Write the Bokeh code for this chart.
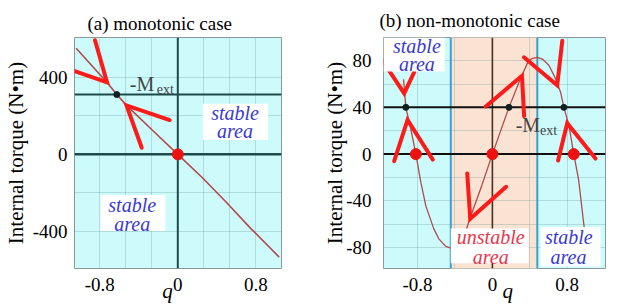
import numpy as np
from bokeh.plotting import figure
from bokeh.models import Range1d, FixedTicker, Span, Label, LabelSet, Title, ColumnDataSource
from bokeh.layouts import row
from bokeh.embed import file_html
from bokeh.resources import INLINE
from bokeh.core.properties import value

# ---------------- panel (a): monotonic case ----------------
a_q = [-1.043, -0.726, -0.626, -0.526, -0.26, 0.0, 0.25, 0.5, 0.75, 1.04]
a_torque = [550, 373, 310, 254, 125, 0, -120, -250, -385, -533]
a_mext = 310
a_eq_q = [-0.626]
a_eq_t = [310]
a_zero_q = [0.0]
a_zero_t = [0]
a_tip_q = [-0.726, -0.526]
a_tip_t = [373, 254]
a_arm1_q = [-1.16, -0.083]
a_arm1_t = [449, 178]
a_arm2_q = [-0.85, -0.37]
a_arm2_t = [592, 34]
a_box_l = [0.257, -0.793]
a_box_r = [0.927, -0.126]
a_box_t = [262, -211]
a_box_b = [74, -397]
a_txt_q = [0.587, 0.587, -0.468, -0.468]
a_txt_t = [217, 120, -265, -359]
a_txt = ["stable", "area", "stable", "area"]
a_xticks = [-0.8, 0, 0.8]
a_xtick_labels = ["-0.8", "0", "0.8"]
a_xgrid = [-0.8, -0.5333, -0.2667, 0, 0.2667, 0.5333, 0.8]
a_yticks = [-400, 0, 400]
a_ytick_labels = ["-400", "0", "400"]
a_ygrid = [-400, -200, 0, 200, 400]

# ---------------- panel (b): non-monotonic case ----------------
b_q = [-0.950, -0.925, -0.871, -0.818, -0.765, -0.711, -0.626, -0.573, -0.498, -0.445,
       -0.360, -0.285, -0.231, -0.114, 0.0, 0.177, 0.302, 0.387, 0.43, 0.48, 0.54,
       0.604, 0.675, 0.729, 0.764, 0.817, 0.870, 0.921, 0.977, 1.006]
b_torque = [64, 40, 21, 0, -24, -44.5, -64, -72.5, -79, -80.5,
            -78, -66, -53, -27, 0, 40, 65, 80, 82, 82.7, 81,
            76, 64.6, 53, 40, 25, 0, -21.6, -60, -77]
b_mext = 40
b_eq_q = [-0.925, 0.177, 0.764]
b_eq_t = [40, 40, 40]
b_zero_q = [-0.818, 0.0, 0.870]
b_zero_t = [0, 0, 0]
b_unstable = [-0.445, 0.48]
b_tip_q = [-0.943, -0.907, -0.237, 0.316, 0.693, 0.800]
b_tip_t = [51.9, 29.2, -55.3, 67.0, 58.9, 26.4]
b_arm1_q = [-1.199, -1.050, -0.269, -0.071, 0.337, 0.702]
b_arm1_t = [82.9, -6.1, -16.5, 40.7, 82.9, -5.5]
b_arm2_q = [-0.836, -0.637, 0.147, 0.339, 0.747, 1.102]
b_arm2_t = [70.2, -4.7, -28.0, 32.6, 97.0, -3.8]
b_box_l = [-1.164, -0.445, 0.515]
b_box_r = [-0.509, 0.387, 1.155]
b_box_t = [99.8, -63.7, -62.3]
b_box_b = [70.8, -93.4, -96.2]
b_txt_q = [-0.807, -0.807, -0.018, -0.018, 0.817, 0.814]
b_txt_t = [92.8, 77.1, -70.8, -87.7, -71.0, -88.0]
b_txt = ["stable", "area", "unstable", "area", "stable", "area"]
b_txt_kind = ["s", "s", "u", "u", "s", "s"]
b_xticks = [-0.8, 0, 0.8]
b_xtick_labels = ["-0.8", "0", "0.8"]
b_xgrid = [-0.8, -0.4, 0, 0.4, 0.8]
b_yticks = [-80, -40, 0, 40, 80]
b_ytick_labels = ["-80", "-40", "0", "40", "80"]
b_ygrid = [-80, -60, -40, -20, 0, 20, 40, 60, 80]

SERIF = "Liberation Serif"
CYAN = "#cdfbfb"
PEACH = "#fbe3d3"
RED = "#ff1a1a"
CURVE = "#b4484a"
BLUE_TXT = "#3a3ad0"
RED_TXT = "#e8364a"
NB = "\u00a0"


def base_fig(xr, yr, w, h, bl, br, bt, bb, xt, xtl, xg, yt, ytl, yg, ystand,
             title, toff, tstand, qlabel, ylab_stand):
    p = figure(width=w, height=h, x_range=Range1d(*xr), y_range=Range1d(*yr),
               output_backend="svg", toolbar_location=None,
               min_border_left=bl, min_border_right=br,
               min_border_top=bt, min_border_bottom=bb)
    p.title = Title(text=title, align="left", offset=toff, standoff=tstand,
                    text_font=SERIF, text_font_size="19px", text_font_style="normal",
                    text_color="black")
    p.background_fill_color = CYAN
    p.border_fill_color = "white"
    p.outline_line_color = "#8a9a9a"
    p.outline_line_width = 1
    p.axis.axis_line_color = None
    p.axis.major_tick_line_color = None
    p.axis.minor_tick_line_color = None
    p.axis.major_label_text_font = SERIF
    p.axis.major_label_text_font_size = "19px"
    p.axis.major_label_text_color = "black"
    p.axis.axis_label_text_font = SERIF
    p.axis.axis_label_text_font_size = "21px"
    p.axis.axis_label_text_color = "black"
    p.xaxis.ticker = FixedTicker(ticks=xt)
    p.xaxis.major_label_overrides = {float(k): s for k, s in zip(xt, xtl)}
    p.xaxis.major_label_standoff = 3
    p.xaxis.axis_label = qlabel
    p.xaxis.axis_label_text_font_style = "italic"
    p.xaxis.axis_label_standoff = -15
    p.yaxis.ticker = FixedTicker(ticks=yt)
    p.yaxis.major_label_overrides = {float(k): s for k, s in zip(yt, ytl)}
    p.yaxis.major_label_standoff = ystand
    p.yaxis.axis_label = "Internal torque (N•m)"
    p.yaxis.axis_label_text_font_style = "normal"
    p.yaxis.axis_label_standoff = ylab_stand
    p.xgrid.ticker = FixedTicker(ticks=xg)
    p.ygrid.ticker = FixedTicker(ticks=yg)
    p.grid.grid_line_color = "#5f9090"
    p.grid.grid_line_alpha = 0.28
    p.grid.grid_line_width = 1
    return p


def chevrons(p, tq, tt, a1q, a1t, a2q, a2t):
    xs = [[x1, x0, x2] for x0, x1, x2 in zip(tq, a1q, a2q)]
    ys = [[y1, y0, y2] for y0, y1, y2 in zip(tt, a1t, a2t)]
    p.multi_line(xs, ys, line_color=RED, line_width=4, line_cap="round", line_join="miter")


def area_labels(p, q, t, txt, colors):
    src = ColumnDataSource(dict(q=q, t=t, txt=txt, c=colors))
    p.add_layout(LabelSet(x="q", y="t", text="txt", source=src, text_color="c",
                          text_font=value(SERIF), text_font_style="italic",
                          text_font_size="20px", text_align="center",
                          text_baseline="middle"))


# ---------- figure (a)
pa = base_fig((-1.06, 1.064), (-592, 606), 310, 306, 68, 29, 32, 38,
              a_xticks, a_xtick_labels, a_xgrid, a_yticks, a_ytick_labels, a_ygrid, 1,
              "(a) monotonic case", 13, 8, "q" + NB * 4, 2)
AXC = "#1d4a4a"
pa.add_layout(Span(location=0, dimension="height", line_color=AXC, line_width=2, level="underlay"))
pa.add_layout(Span(location=0, dimension="width", line_color=AXC, line_width=2.5, level="underlay"))
pa.add_layout(Span(location=a_mext, dimension="width", line_color=AXC, line_width=2, level="underlay"))
pa.line(a_q, a_torque, line_color=CURVE, line_width=1.6)
chevrons(pa, a_tip_q, a_tip_t, a_arm1_q, a_arm1_t, a_arm2_q, a_arm2_t)
pa.scatter(a_zero_q, a_zero_t, size=11, fill_color="#ee1111", line_color="#ee1111")
pa.scatter(a_eq_q, a_eq_t, size=6, fill_color="#102020", line_color="#102020")
pa.quad(left=a_box_l, right=a_box_r, top=a_box_t, bottom=a_box_b,
        fill_color="white", line_color=None)
area_labels(pa, a_txt_q, a_txt_t, a_txt, [BLUE_TXT] * len(a_txt))
pa.add_layout(Label(x=-0.493, y=364, text="-M", text_font=SERIF, text_font_size="20px",
                    text_baseline="middle", text_align="left"))
pa.add_layout(Label(x=-0.215, y=336, text="ext", text_font=SERIF, text_font_size="14px",
                    text_baseline="middle", text_align="left"))

# ---------- figure (b)
pb = base_fig((-1.164, 1.209), (-97.9, 99.8), 310, 306, 73, 15, 37, 36,
              b_xticks, b_xtick_labels, b_xgrid, b_yticks, b_ytick_labels, b_ygrid, 6,
              "(b) non-monotonic case", -4, 14, NB * 5 + "q", -4)
pb.quad(left=[b_unstable[0]], right=[b_unstable[1]], top=[1000], bottom=[-1000],
        fill_color=PEACH, line_color=None, level="image")
for xb in b_unstable:
    pb.add_layout(Span(location=xb, dimension="height", line_color="#3aa0cf",
                       line_width=2, level="underlay"))
pb.add_layout(Span(location=0, dimension="height", line_color="#4a3020", line_width=1.6, level="underlay"))
pb.add_layout(Span(location=0, dimension="width", line_color="#101010", line_width=2, level="underlay"))
pb.add_layout(Span(location=b_mext, dimension="width", line_color="#101010", line_width=2, level="underlay"))
pb.line(b_q, b_torque, line_color=CURVE, line_width=1.3)
chevrons(pb, b_tip_q, b_tip_t, b_arm1_q, b_arm1_t, b_arm2_q, b_arm2_t)
pb.scatter(b_zero_q, b_zero_t, size=11, fill_color="#ee1111", line_color="#ee1111")
pb.scatter(b_eq_q, b_eq_t, size=6, fill_color="#102020", line_color="#102020")
pb.quad(left=b_box_l, right=b_box_r, top=b_box_t, bottom=b_box_b,
        fill_color="white", line_color=None)
area_labels(pb, b_txt_q, b_txt_t, b_txt,
            [RED_TXT if k == "u" else BLUE_TXT for k in b_txt_kind])
pb.add_layout(Label(x=0.249, y=25, text="-M", text_font=SERIF, text_font_size="20px",
                    text_baseline="middle", text_align="left"))
pb.add_layout(Label(x=0.51, y=20, text="ext", text_font=SERIF, text_font_size="14px",
                    text_baseline="middle", text_align="left"))

layout = row(pa, pb, spacing=0)
open("out.html", "w").write(file_html(layout, INLINE))
